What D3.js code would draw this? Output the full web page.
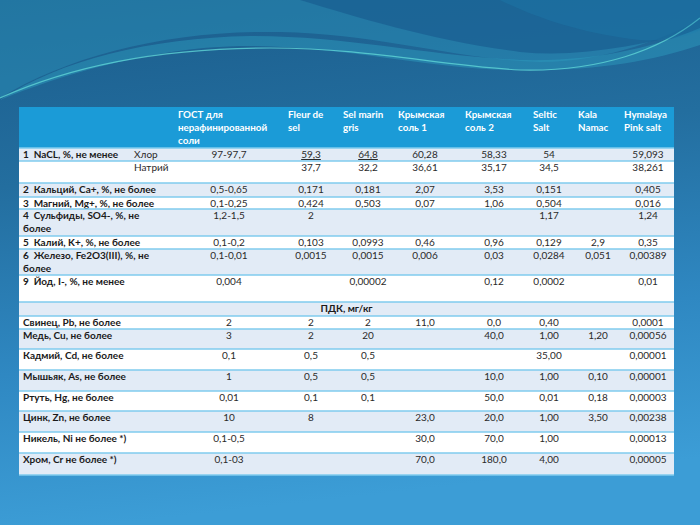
<!DOCTYPE html>
<html>
<head>
<meta charset="utf-8">
<script src="https://cdn.jsdelivr.net/npm/d3@7"></script>
<style>
  body { margin: 0; padding: 0; }
  svg { display: block; }
  text { font-family: Lato, "Open Sans", sans-serif; white-space: pre; }
</style>
</head>
<body>
<div id="graph"></div>
<script>
// Column headers (each entry is the wrapped lines of one header cell)
const headers = [
    ["ГОСТ для", "нерафинированной", "соли"],
    ["Fleur de", "sel"],
    ["Sel marin", "gris"],
    ["Крымская", "соль 1"],
    ["Крымская", "соль 2"],
    ["Seltic", "Salt"],
    ["Kala", "Namac"],
    ["Hymalaya", "Pink salt"]
];

// Row labels (wrapped lines), second label column and values
const rowLabels = [
    ["1  NaCL, %, не менее"],
    [""],
    ["2  Кальций, Ca+, %, не более"],
    ["3  Магний, Mg+, %, не более"],
    ["4  Сульфиды, SO4-, %, не", "более"],
    ["5  Калий, K+, %, не более"],
    ["6  Железо, Fe2O3(III), %, не", "более"],
    ["9  Йод, I-, %, не менее"],
    [""],
    ["Свинец, Pb, не более"],
    ["Медь, Cu, не более"],
    ["Кадмий, Cd, не более"],
    ["Мышьяк, As, не более"],
    ["Ртуть, Hg, не более"],
    ["Цинк, Zn, не более"],
    ["Никель, Ni не более *)"],
    ["Хром, Cr не более *)"]
];

const subLabels = ["Хлор", "Натрий", "", "", "", "", "", "", "", "", "", "", "", "", "", "", ""];

const sectionTitle = "ПДК, мг/кг";
const sectionRow = 8;

const values = [
    ["97-97,7", "59,3", "64,8", "60,28", "58,33", "54", "", "59,093"],
    ["", "37,7", "32,2", "36,61", "35,17", "34,5", "", "38,261"],
    ["0,5-0,65", "0,171", "0,181", "2,07", "3,53", "0,151", "", "0,405"],
    ["0,1-0,25", "0,424", "0,503", "0,07", "1,06", "0,504", "", "0,016"],
    ["1,2-1,5", "2", "", "", "", "1,17", "", "1,24"],
    ["0,1-0,2", "0,103", "0,0993", "0,46", "0,96", "0,129", "2,9", "0,35"],
    ["0,1-0,01", "0,0015", "0,0015", "0,006", "0,03", "0,0284", "0,051", "0,00389"],
    ["0,004", "", "0,00002", "", "0,12", "0,0002", "", "0,01"],
    [],
    ["2", "2", "2", "11,0", "0,0", "0,40", "", "0,0001"],
    ["3", "2", "20", "", "40,0", "1,00", "1,20", "0,00056"],
    ["0,1", "0,5", "0,5", "", "", "35,00", "", "0,00001"],
    ["1", "0,5", "0,5", "", "10,0", "1,00", "0,10", "0,00001"],
    ["0,01", "0,1", "0,1", "", "50,0", "0,01", "0,18", "0,00003"],
    ["10", "8", "", "23,0", "20,0", "1,00", "3,50", "0,00238"],
    ["0,1-0,5", "", "", "30,0", "70,0", "1,00", "", "0,00013"],
    ["0,1-03", "", "", "70,0", "180,0", "4,00", "", "0,00005"]
];

// Values shown underlined in the source table ("row-column")
const underlined = ["0-1", "0-2"];

// ---- layout ----
const width = 700, height = 525;
const tableLeft = 19, tableRight = 674, tableTop = 107, headerHeight = 41;
const rowHeights = [13, 22, 14, 12, 27, 13, 26, 27, 14, 13, 20, 21, 21, 20, 21, 21, 22];
const colEdges = [tableLeft, 175, 285, 340, 395, 462, 530, 575, 621, tableRight];
const colCenters = [229, 311, 368, 425, 494, 549, 598, 648];

const rowTops = [tableTop + headerHeight];
rowHeights.forEach((h, i) => rowTops.push(rowTops[i] + h));

const svg = d3.select("#graph").append("svg")
    .attr("width", width)
    .attr("height", height);

// Background gradient
const defs = svg.append("defs");
const bg = defs.append("linearGradient").attr("id", "bg")
    .attr("x1", 0).attr("y1", 0).attr("x2", 0.15).attr("y2", 1);
bg.append("stop").attr("offset", 0).attr("stop-color", "#1b5d8c");
bg.append("stop").attr("offset", 0.35).attr("stop-color", "#236e9f");
bg.append("stop").attr("offset", 0.7).attr("stop-color", "#2f88c2");
bg.append("stop").attr("offset", 1).attr("stop-color", "#3c9dd6");

svg.append("rect").attr("width", width).attr("height", height).attr("fill", "url(#bg)");

// Decorative waves at the top
const waves = svg.append("g");
waves.append("path")
    .attr("d", "M0,0 L0,98 C70,55 170,30 280,32 C380,34 460,60 540,62 C610,62 670,35 700,20 L700,0 Z")
    .attr("fill", "#2a8fb7").attr("opacity", 0.5);
waves.append("path")
    .attr("d", "M300,0 C360,18 430,40 520,52 C580,58 640,45 700,30 L700,0 Z")
    .attr("fill", "#1a5f92").attr("opacity", 0.75);
waves.append("path")
    .attr("d", "M0,100 C60,60 150,38 250,36 C350,36 420,55 520,60 C600,62 660,45 700,28 L700,45 C650,62 590,72 510,70 C420,68 340,45 240,46 C150,48 60,75 0,100 Z")
    .attr("fill", "#2e9fc0").attr("opacity", 0.45);
waves.append("path")
    .attr("d", "M0,98 C80,62 170,48 270,48 C370,48 440,66 520,70 C600,72 660,50 700,18")
    .attr("fill", "none").attr("stroke", "#5fd4d6").attr("stroke-width", 1.2).attr("opacity", 0.8);
waves.append("path")
    .attr("d", "M500,0 C540,20 590,35 640,40 C670,42 690,35 700,30 L700,0 Z")
    .attr("fill", "#1d7fae").attr("opacity", 0.35);

// ---- table ----
const table = svg.append("g");

// header
table.append("rect")
    .attr("x", tableLeft).attr("y", tableTop)
    .attr("width", tableRight - tableLeft).attr("height", headerHeight)
    .attr("fill", "#1b9bd7");

const headerG = table.selectAll("g.header").data(headers).join("g")
    .attr("class", "header")
    .attr("transform", (d, i) => `translate(${colEdges[i + 1] + 3}, ${tableTop + 11})`);
headerG.selectAll("text").data(d => d).join("text")
    .attr("y", (d, i) => i * 13)
    .attr("fill", "#ffffff")
    .attr("font-size", 9.8)
    .attr("font-weight", "bold")
    .text(d => d);

// body rows
const rows = table.selectAll("g.row").data(values).join("g")
    .attr("class", "row")
    .attr("transform", (d, i) => `translate(0, ${rowTops[i]})`);

rows.append("rect")
    .attr("x", tableLeft)
    .attr("width", tableRight - tableLeft)
    .attr("height", (d, i) => rowHeights[i])
    .attr("fill", (d, i) => i % 2 === 0 ? "#e2ebf6" : "#ffffff");

// row labels
rows.append("g").selectAll("text").data((d, i) => rowLabels[i]).join("text")
    .attr("x", tableLeft + 4)
    .attr("y", (d, i) => 10 + i * 13)
    .attr("fill", "#1a1a1a")
    .attr("font-size", 10)
    .attr("font-weight", "bold")
    .text(d => d);

rows.append("text")
    .attr("x", 134)
    .attr("y", 10)
    .attr("fill", "#2a2a2a")
    .attr("font-size", 10)
    .text((d, i) => subLabels[i]);

// values
rows.each(function (rowVals, r) {
    d3.select(this).selectAll("text.val").data(rowVals).join("text")
        .attr("class", "val")
        .attr("x", (d, c) => colCenters[c])
        .attr("y", 10)
        .attr("text-anchor", "middle")
        .attr("fill", "#2a2a2a")
        .attr("font-size", 10)
        .attr("text-decoration", (d, c) => underlined.includes(`${r}-${c}`) ? "underline" : null)
        .text(d => d);
});

// section title row
table.append("text")
    .attr("x", (tableLeft + tableRight) / 2)
    .attr("y", rowTops[sectionRow] + 10)
    .attr("text-anchor", "middle")
    .attr("fill", "#1a1a1a")
    .attr("font-size", 10)
    .attr("font-weight", "bold")
    .text(sectionTitle);

// separators between rows
table.selectAll("line.sep").data(rowTops).join("line")
    .attr("class", "sep")
    .attr("x1", tableLeft).attr("x2", tableRight)
    .attr("y1", d => d).attr("y2", d => d)
    .attr("stroke", "#7fcbee")
    .attr("stroke-width", 1.6);
</script>
</body>
</html>
